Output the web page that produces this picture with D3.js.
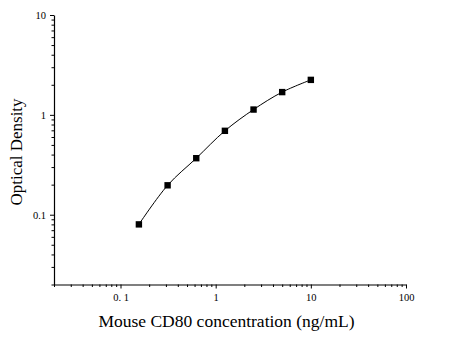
<!DOCTYPE html>
<html><head><meta charset="utf-8">
<script src="https://cdn.jsdelivr.net/npm/d3@7"></script>
<style>body{margin:0;background:#fff}svg{display:block}text{font-family:"Liberation Serif","Times New Roman",serif}</style>
</head><body>
<svg id="c" width="459" height="337"></svg>
<script>
const concentrations = [0.156, 0.3125, 0.625, 1.25, 2.5, 5, 10];
const odValues = [0.08, 0.197, 0.368, 0.692, 1.13, 1.69, 2.24];
const xTickValues = [0.1, 1, 10, 100];
const xTickLabels = ["0. 1", "1", "10", "100"];
const yTickValues = [0.1, 1, 10];
const yTickLabels = ["0.1", "1", "10"];
const xTitle = "Mouse CD80 concentration (ng/mL)";
const yTitle = "Optical Density";

const svg = d3.select("#c");
const L = 54, R = 406, T = 15, B = 284.5;
const x = d3.scaleLog().domain([0.02, 100]).range([L, R]);
const y = d3.scaleLog().domain([0.02, 10]).range([B, T]);

function minorTicks(dom){
  const out=[];
  for(let e=-3;e<=3;e++){for(let m=1;m<10;m++){const v=m*Math.pow(10,e); if(v>=dom[0]-1e-9 && v<=dom[1]+1e-9) out.push(v);}}
  return out;
}
// x axis
const xMinor = minorTicks(x.domain()).filter(v=>!xTickValues.includes(v));
const xa = svg.append("g").attr("transform",`translate(0,${B})`);
xa.call(d3.axisBottom(x).tickValues(xMinor).tickSize(2.5).tickSizeOuter(0).tickFormat(""));
xa.append("g").call(d3.axisBottom(x).tickValues(xTickValues).tickSize(4).tickSizeOuter(0).tickFormat((d,i)=>xTickLabels[i]).tickPadding(5))
  .select(".domain").remove();
// y axis
const yMinor = minorTicks(y.domain()).filter(v=>!yTickValues.includes(v));
const ya = svg.append("g").attr("transform",`translate(${L},0)`);
ya.call(d3.axisLeft(y).tickValues(yMinor).tickSize(2.5).tickSizeOuter(0).tickFormat(""));
ya.append("g").call(d3.axisLeft(y).tickValues(yTickValues).tickSize(4).tickSizeOuter(0).tickFormat((d,i)=>yTickLabels[i]).tickPadding(4))
  .select(".domain").remove();
svg.selectAll(".domain").attr("stroke","#000").attr("stroke-width",1.2);
svg.selectAll(".tick line").attr("stroke","#000");
svg.selectAll(".tick text").attr("font-size",10.5).attr("fill","#000");

// curve
const pts = concentrations.map((c,i)=>[x(c), y(odValues[i])]);
svg.append("path").attr("d", d3.line().curve(d3.curveCatmullRom.alpha(0.5))(pts))
  .attr("fill","none").attr("stroke","#000").attr("stroke-width",1);
svg.selectAll("rect.pt").data(concentrations).join("rect").attr("class","pt")
  .attr("x",(d)=>x(d)-3.2).attr("y",(d,i)=>y(odValues[i])-3.2).attr("width",6.4).attr("height",6.4).attr("fill","#000");

svg.append("text").attr("x",226.5).attr("y",327).attr("text-anchor","middle").attr("font-size",17.5).text(xTitle);
svg.append("text").attr("transform","translate(22,152) rotate(-90)").attr("text-anchor","middle").attr("font-size",17).text(yTitle);
</script>
</body></html>
